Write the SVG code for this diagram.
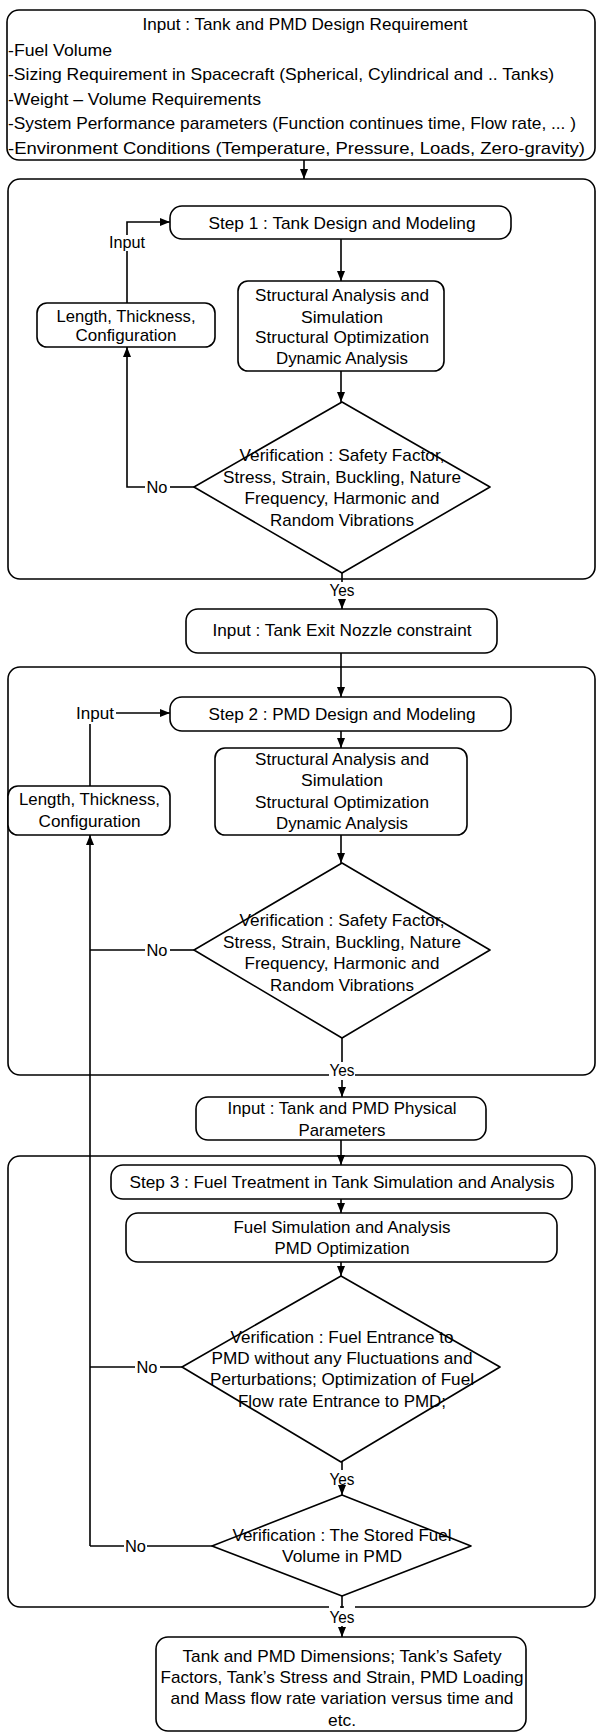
<svg xmlns="http://www.w3.org/2000/svg" width="598" height="1733" viewBox="0 0 598 1733">
<defs>
<marker id="ah" markerUnits="userSpaceOnUse" markerWidth="10" markerHeight="8" refX="10" refY="4" orient="auto"><path d="M0,0 L10,4 L0,8 z" fill="#000"/></marker>
<style>
.box{fill:#fff;stroke:#000;stroke-width:1.6}
.cont{fill:none;stroke:#000;stroke-width:1.6}
.ln{fill:none;stroke:#000;stroke-width:1.6}
.arr{fill:none;stroke:#000;stroke-width:1.6;marker-end:url(#ah)}
.bg{fill:#fff;stroke:none}
text{font-family:"Liberation Sans",Arial,sans-serif;font-size:17px;fill:#000}
.c{text-anchor:middle}
</style>
</defs>
<rect width="598" height="1733" fill="#fff"/>
<g id="containers">
<rect id="container1" class="cont" x="8" y="179" width="587" height="400" rx="12"/>
<rect id="container2" class="cont" x="8" y="667" width="587" height="408" rx="12"/>
<rect id="container3" class="cont" x="8" y="1156" width="587" height="451" rx="12"/>
</g>
<g id="connectors">
<line class="arr" x1="304" y1="160" x2="304" y2="179"/>
<line class="arr" x1="341" y1="239" x2="341" y2="281"/>
<line class="arr" x1="341" y1="371" x2="341" y2="402"/>
<line class="ln" x1="342" y1="573" x2="342" y2="582"/>
<line class="arr" x1="342" y1="599" x2="342" y2="609"/>
<line class="arr" x1="341" y1="653" x2="341" y2="697"/>
<line class="arr" x1="341" y1="731" x2="341" y2="748"/>
<line class="arr" x1="341" y1="835" x2="341" y2="863"/>
<line class="ln" x1="342" y1="1038" x2="342" y2="1062"/>
<line class="arr" x1="342" y1="1080" x2="342" y2="1097"/>
<line class="arr" x1="341" y1="1140" x2="341" y2="1165"/>
<line class="arr" x1="341" y1="1199" x2="341" y2="1213"/>
<line class="arr" x1="341" y1="1262" x2="341" y2="1276"/>
<line class="ln" x1="342" y1="1462" x2="342" y2="1470"/>
<line class="arr" x1="342" y1="1487" x2="342" y2="1495"/>
<line class="ln" x1="342" y1="1596" x2="342" y2="1608"/>
<line class="arr" x1="342" y1="1626" x2="342" y2="1637"/>
<polyline class="ln" points="194,487 170,487"/>
<polyline class="arr" points="145,487 127,487 127,347"/>
<polyline class="ln" points="127,303 127,251"/>
<polyline class="arr" points="127,235 127,222 170,222"/>
<polyline class="arr" points="90,1546 90,835"/>
<polyline class="ln" points="90,950 145,950"/>
<polyline class="ln" points="170,950 194,950"/>
<polyline class="ln" points="90,1367 135,1367"/>
<polyline class="ln" points="160,1367 182,1367"/>
<polyline class="ln" points="90,1546 124,1546"/>
<polyline class="ln" points="147,1546 212,1546"/>
<polyline class="ln" points="90,786 90,724"/>
<polyline class="arr" points="116,713 170,713"/>
<text class="c" x="157" y="493" textLength="21" lengthAdjust="spacingAndGlyphs">No</text>
<text class="c" x="157" y="956" textLength="21" lengthAdjust="spacingAndGlyphs">No</text>
<text class="c" x="147" y="1373" textLength="21" lengthAdjust="spacingAndGlyphs">No</text>
<text class="c" x="135.5" y="1552" textLength="21" lengthAdjust="spacingAndGlyphs">No</text>
<text class="c" x="127" y="248" textLength="36" lengthAdjust="spacingAndGlyphs">Input</text>
<text class="c" x="95" y="719" textLength="38" lengthAdjust="spacingAndGlyphs">Input</text>
<rect class="bg" x="329" y="582" width="26" height="16"/>
<text class="c" x="342" y="596" textLength="25" lengthAdjust="spacingAndGlyphs">Yes</text>
<rect class="bg" x="329" y="1063" width="26" height="16"/>
<text class="c" x="342" y="1076" textLength="25" lengthAdjust="spacingAndGlyphs">Yes</text>
<text class="c" x="342" y="1485" textLength="25" lengthAdjust="spacingAndGlyphs">Yes</text>
<rect class="bg" x="329" y="1605" width="11" height="4"/>
<rect class="bg" x="344" y="1605" width="11" height="4"/>
<rect class="bg" x="329" y="1609" width="26" height="16"/>
<text class="c" x="342" y="1623" textLength="25" lengthAdjust="spacingAndGlyphs">Yes</text>
</g>
<g id="input-requirements">
<rect class="box" x="7" y="10" width="588" height="150" rx="12"/>
<text class="c" x="305" y="30" textLength="325" lengthAdjust="spacingAndGlyphs">Input : Tank and PMD Design Requirement</text>
<text x="8" y="55.5" textLength="104" lengthAdjust="spacingAndGlyphs">-Fuel Volume</text>
<text x="8" y="80" textLength="546" lengthAdjust="spacingAndGlyphs">-Sizing Requirement in Spacecraft (Spherical, Cylindrical and .. Tanks)</text>
<text x="8" y="104.5" textLength="253" lengthAdjust="spacingAndGlyphs">-Weight – Volume Requirements</text>
<text x="8" y="129" textLength="568" lengthAdjust="spacingAndGlyphs">-System Performance parameters (Function continues time, Flow rate, ... )</text>
<text x="8" y="153.5" textLength="577" lengthAdjust="spacingAndGlyphs">-Environment Conditions (Temperature, Pressure, Loads, Zero-gravity)</text>
</g>
<g id="step1">
<rect class="box" x="170" y="206" width="341" height="33" rx="12"/>
<text class="c" x="342" y="229" textLength="267" lengthAdjust="spacingAndGlyphs">Step 1 : Tank Design and Modeling</text>
</g>
<g id="params1">
<rect class="box" x="37" y="303" width="178" height="44" rx="10"/>
<text class="c" x="126" y="322" textLength="139" lengthAdjust="spacingAndGlyphs">Length, Thickness,</text>
<text class="c" x="126" y="341" textLength="101" lengthAdjust="spacingAndGlyphs">Configuration</text>
</g>
<g id="analysis1">
<rect class="box" x="238" y="281" width="206" height="90" rx="10"/>
<text class="c" x="342" y="301" textLength="174" lengthAdjust="spacingAndGlyphs">Structural Analysis and</text>
<text class="c" x="342" y="323" textLength="82" lengthAdjust="spacingAndGlyphs">Simulation</text>
<text class="c" x="342" y="343" textLength="174" lengthAdjust="spacingAndGlyphs">Structural Optimization</text>
<text class="c" x="342" y="364" textLength="132" lengthAdjust="spacingAndGlyphs">Dynamic Analysis</text>
</g>
<g id="verify1">
<polygon class="box" stroke-linejoin="round" points="342,402 490,487 342,573 194,487"/>
<text class="c" x="342" y="461" textLength="205" lengthAdjust="spacingAndGlyphs">Verification : Safety Factor,</text>
<text class="c" x="342" y="483" textLength="238" lengthAdjust="spacingAndGlyphs">Stress, Strain, Buckling, Nature</text>
<text class="c" x="342" y="504" textLength="195" lengthAdjust="spacingAndGlyphs">Frequency, Harmonic and</text>
<text class="c" x="342" y="526" textLength="144" lengthAdjust="spacingAndGlyphs">Random Vibrations</text>
</g>
<g id="nozzle">
<rect class="box" x="186" y="609" width="311" height="44" rx="12"/>
<text class="c" x="342" y="636" textLength="259" lengthAdjust="spacingAndGlyphs">Input : Tank Exit Nozzle constraint</text>
</g>
<g id="step2">
<rect class="box" x="170" y="697" width="341" height="34" rx="12"/>
<text class="c" x="342" y="720" textLength="267" lengthAdjust="spacingAndGlyphs">Step 2 : PMD Design and Modeling</text>
</g>
<g id="params2">
<rect class="box" x="8" y="786" width="162" height="49" rx="10"/>
<text class="c" x="89.5" y="805" textLength="141" lengthAdjust="spacingAndGlyphs">Length, Thickness,</text>
<text class="c" x="89.5" y="827" textLength="102" lengthAdjust="spacingAndGlyphs">Configuration</text>
</g>
<g id="analysis2">
<rect class="box" x="215" y="748" width="252" height="87" rx="10"/>
<text class="c" x="342" y="765" textLength="174" lengthAdjust="spacingAndGlyphs">Structural Analysis and</text>
<text class="c" x="342" y="786" textLength="82" lengthAdjust="spacingAndGlyphs">Simulation</text>
<text class="c" x="342" y="808" textLength="174" lengthAdjust="spacingAndGlyphs">Structural Optimization</text>
<text class="c" x="342" y="829" textLength="132" lengthAdjust="spacingAndGlyphs">Dynamic Analysis</text>
</g>
<g id="verify2">
<polygon class="box" stroke-linejoin="round" points="342,863 490,950 342,1038 194,950"/>
<text class="c" x="342" y="926" textLength="205" lengthAdjust="spacingAndGlyphs">Verification : Safety Factor,</text>
<text class="c" x="342" y="948" textLength="238" lengthAdjust="spacingAndGlyphs">Stress, Strain, Buckling, Nature</text>
<text class="c" x="342" y="969" textLength="195" lengthAdjust="spacingAndGlyphs">Frequency, Harmonic and</text>
<text class="c" x="342" y="991" textLength="144" lengthAdjust="spacingAndGlyphs">Random Vibrations</text>
</g>
<g id="physical">
<rect class="box" x="196" y="1097" width="290" height="43" rx="12"/>
<text class="c" x="342" y="1114" textLength="229" lengthAdjust="spacingAndGlyphs">Input : Tank and PMD Physical</text>
<text class="c" x="342" y="1136" textLength="87" lengthAdjust="spacingAndGlyphs">Parameters</text>
</g>
<g id="step3">
<rect class="box" x="111" y="1165" width="461" height="34" rx="12"/>
<text class="c" x="342" y="1188" textLength="425" lengthAdjust="spacingAndGlyphs">Step 3 : Fuel Treatment in Tank Simulation and Analysis</text>
</g>
<g id="fuelsim">
<rect class="box" x="126" y="1213" width="431" height="49" rx="12"/>
<text class="c" x="342" y="1233" textLength="217" lengthAdjust="spacingAndGlyphs">Fuel Simulation and Analysis</text>
<text class="c" x="342" y="1254" textLength="135" lengthAdjust="spacingAndGlyphs">PMD Optimization</text>
</g>
<g id="verify3">
<polygon class="box" stroke-linejoin="round" points="341,1276 500,1367 341,1462 182,1367"/>
<text class="c" x="342" y="1343" textLength="223" lengthAdjust="spacingAndGlyphs">Verification : Fuel Entrance to</text>
<text class="c" x="342" y="1364" textLength="261" lengthAdjust="spacingAndGlyphs">PMD without any Fluctuations and</text>
<text class="c" x="342" y="1385" textLength="264" lengthAdjust="spacingAndGlyphs">Perturbations; Optimization of Fuel</text>
<text class="c" x="342" y="1407" textLength="208" lengthAdjust="spacingAndGlyphs">Flow rate Entrance to PMD;</text>
</g>
<g id="verify4">
<polygon class="box" stroke-linejoin="round" points="342,1495 471,1546 342,1596 212,1546"/>
<text class="c" x="342" y="1541" textLength="219" lengthAdjust="spacingAndGlyphs">Verification : The Stored Fuel</text>
<text class="c" x="342" y="1562" textLength="120" lengthAdjust="spacingAndGlyphs">Volume  in PMD</text>
</g>
<g id="output">
<rect class="box" x="156" y="1637" width="370" height="94" rx="12"/>
<text class="c" x="342" y="1662" textLength="319" lengthAdjust="spacingAndGlyphs">Tank and PMD Dimensions; Tank’s Safety</text>
<text class="c" x="342" y="1683" textLength="363" lengthAdjust="spacingAndGlyphs">Factors, Tank’s Stress and Strain, PMD Loading</text>
<text class="c" x="342" y="1704" textLength="343" lengthAdjust="spacingAndGlyphs">and Mass flow rate variation versus time and</text>
<text class="c" x="342" y="1726" textLength="28" lengthAdjust="spacingAndGlyphs">etc.</text>
</g>
</svg>
